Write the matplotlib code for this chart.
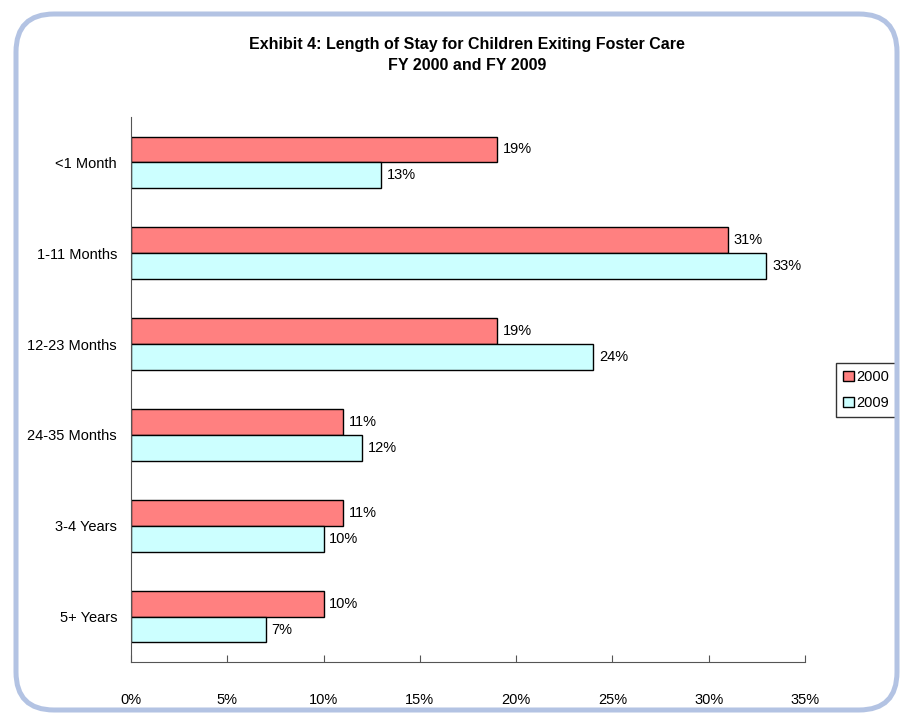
import matplotlib.pyplot as plt
from matplotlib.patches import FancyBboxPatch
from matplotlib.transforms import IdentityTransform
import numpy as np

plt.rcParams['font.family'] = ['Liberation Sans', 'DejaVu Sans']

categories = ['<1 Month', '1-11 Months', '12-23 Months', '24-35 Months', '3-4 Years', '5+ Years']
values_2000 = [19, 31, 19, 11, 11, 10]
values_2009 = [13, 33, 24, 12, 10, 7]
series_names = ['2000', '2009']

COLOR_2000 = '#FF8080'
COLOR_2009 = '#CCFFFF'
BORDER = '#B3C3E3'

W, H = 901, 713
fig = plt.figure(figsize=(W / 100, H / 100), dpi=100)
fig.patch.set_facecolor('white')

# rounded frame around the chart (pixel coordinates, origin bottom-left)
frame = FancyBboxPatch((16, H - 710), 897 - 16, 710 - 14,
                       boxstyle="round,pad=0,rounding_size=38",
                       transform=IdentityTransform(), facecolor='none',
                       edgecolor=BORDER, linewidth=3.6, zorder=0)
fig.patches.append(frame)

ax = fig.add_axes([131 / W, 1 - 662 / H, (805 - 131) / W, (662 - 117) / H])
ax.set_facecolor('none')

y = np.arange(len(categories))
bh = 0.285
b1 = ax.barh(y - bh / 2, values_2000, height=bh, color=COLOR_2000,
             edgecolor='black', linewidth=1, label=series_names[0])
b2 = ax.barh(y + bh / 2, values_2009, height=bh, color=COLOR_2009,
             edgecolor='black', linewidth=1, label=series_names[1])

for bars, vals in ((b1, values_2000), (b2, values_2009)):
    for bar, v in zip(bars, vals):
        ax.text(v + 0.3, bar.get_y() + bar.get_height() / 2, f'{v}%',
                va='center', ha='left', fontsize=10.5)

ax.set_xlim(0, 35)
ax.set_ylim(len(categories) - 0.5, -0.5)
ax.set_xticks(range(0, 36, 5))
ax.set_xticklabels([f'{t}%' for t in range(0, 36, 5)], fontsize=10.5)
ax.set_yticks(y)
ax.set_yticklabels(categories, fontsize=10.5)
ax.tick_params(axis='x', direction='in', length=5, pad=22, color='#555555')
ax.tick_params(axis='y', length=0, pad=10)
for s in ('top', 'right'):
    ax.spines[s].set_visible(False)
ax.spines['left'].set_color('#555555')
ax.spines['bottom'].set_color('#555555')

fig.text(467 / W, 1 - 55 / H,
         'Exhibit 4: Length of Stay for Children Exiting Foster Care\nFY 2000 and FY 2009',
         ha='center', va='center', fontsize=11.5, fontweight='bold',
         linespacing=1.45)

leg = ax.legend(loc='center left', bbox_to_anchor=(836 / W, 1 - 390 / H),
                bbox_transform=fig.transFigure, fontsize=10.5, frameon=True,
                fancybox=False, edgecolor='black', handlelength=0.7,
                handleheight=0.7, handletextpad=0.2, borderpad=0.5,
                labelspacing=0.8, borderaxespad=0)
leg.get_frame().set_linewidth(1)

fig.savefig('out.png', dpi=100, facecolor='white')
